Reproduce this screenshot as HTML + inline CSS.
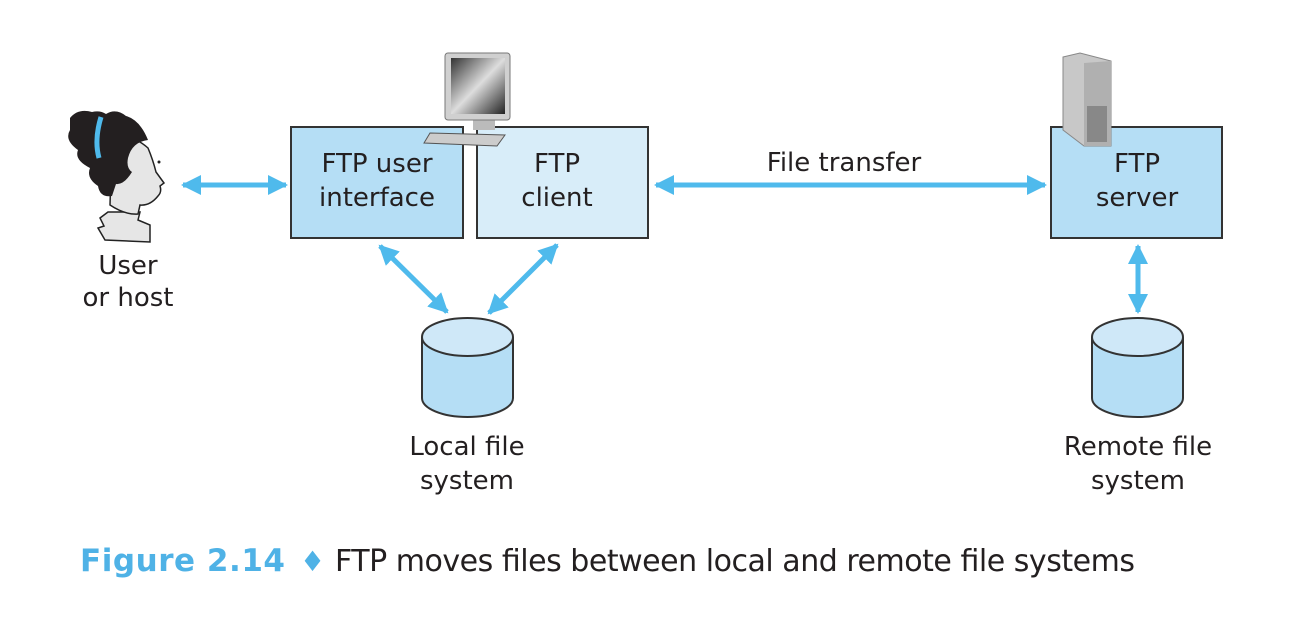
<!DOCTYPE html>
<html><head><meta charset="utf-8"><style>
html,body{margin:0;padding:0;background:#fff;width:1304px;height:632px;overflow:hidden}
svg{display:block}
text{font-family:"DejaVu Sans","Liberation Sans",sans-serif;fill:#231f20}
</style></head><body>
<svg width="1304" height="632" viewBox="0 0 1304 632">
<defs>
<marker id="a" viewBox="0 0 10 10" refX="9" refY="5" markerWidth="4" markerHeight="4" orient="auto-start-reverse"><path d="M0,0 L10,5 L0,10 Z" fill="#4fbaec"/></marker>
<linearGradient id="scr" x1="0" y1="0" x2="1" y2="1"><stop offset="0" stop-color="#333"/><stop offset=".5" stop-color="#ddd"/><stop offset="1" stop-color="#222"/></linearGradient>
</defs>
<g stroke="#4fbaec" stroke-width="5" fill="none">
<line x1="183" y1="185" x2="286" y2="185" marker-start="url(#a)" marker-end="url(#a)"/>
<line x1="656" y1="185" x2="1045" y2="185" marker-start="url(#a)" marker-end="url(#a)"/>
<line x1="380" y1="246" x2="447" y2="312" marker-start="url(#a)" marker-end="url(#a)"/>
<line x1="557" y1="245" x2="489" y2="313" marker-start="url(#a)" marker-end="url(#a)"/>
<line x1="1138" y1="246" x2="1138" y2="312" marker-start="url(#a)" marker-end="url(#a)"/>
</g>
<rect x="291" y="127" width="172" height="111" fill="#b5def5" stroke="#333" stroke-width="2"/>
<rect x="477" y="127" width="171" height="111" fill="#d8edf9" stroke="#333" stroke-width="2"/>
<rect x="1051" y="127" width="171" height="111" fill="#b5def5" stroke="#333" stroke-width="2"/>
<!-- computer -->
<polygon points="430,133 505,135 497,146 424,143" fill="#ccc" stroke="#555"/>
<rect x="473" y="118" width="22" height="12" fill="#bbb"/>
<rect x="445" y="53" width="65" height="67" rx="3" fill="#d0d0d0" stroke="#777"/>
<rect x="451" y="58" width="54" height="56" fill="url(#scr)"/>
<!-- server -->
<polygon points="1063,57 1080,53 1111,61 1111,146 1084,146 1063,130" fill="#c8c8c8" stroke="#888"/>
<polygon points="1084,63 1111,61 1111,146 1084,146" fill="#b0b0b0"/>
<rect x="1087" y="106" width="20" height="36" fill="#888"/>
<!-- cylinders -->
<g stroke="#333" stroke-width="2" fill="#b5def5">
<path d="M422,337 V398 A45.5,19 0 0 0 513,398 V337"/>
<ellipse cx="467.5" cy="337" rx="45.5" ry="19" fill="#cfe8f8"/>
<path d="M1092,337 V398 A45.5,19 0 0 0 1183,398 V337"/>
<ellipse cx="1137.5" cy="337" rx="45.5" ry="19" fill="#cfe8f8"/>
</g>
<!-- person -->
<path d="M108,212 L100,218 L104,226 L98,228 L105,240 L150,242 L150,225 L138,220 L140,212 Z" fill="#e6e6e6" stroke="#222" stroke-width="1.5"/>
<path d="M112,140 Q130,132 148,148 Q153,160 156,172 L164,183 L160,186 Q162,192 158,196 Q150,206 140,205 L138,214 Q125,215 110,205 Z" fill="#e6e6e6" stroke="#222" stroke-width="1.5"/>
<path d="M70,118 Q78,108 92,112 Q100,110 106,114 Q116,108 126,116 Q140,120 148,140 Q132,142 128,158 Q126,168 132,172 Q124,185 116,184 L112,196 Q100,198 98,186 Q86,178 90,168 Q74,160 78,150 Q64,140 70,130 Z" fill="#231f20"/>
<path d="M101,117 Q94,140 99,158" stroke="#4fbaec" stroke-width="5" fill="none"/>
<circle cx="159" cy="162" r="1.5" fill="#222"/>
<g font-size="26" text-anchor="middle">
<text x="128" y="274">User</text><text x="128" y="306">or host</text>
<text x="377" y="172">FTP user</text><text x="377" y="206">interface</text>
<text x="557" y="172">FTP</text><text x="557" y="206">client</text>
<text x="1137" y="172">FTP</text><text x="1137" y="206">server</text>
<text x="844" y="171">File transfer</text>
<text x="467" y="455">Local file</text><text x="467" y="489">system</text>
<text x="1138" y="455">Remote file</text><text x="1138" y="489">system</text>
</g>
<text x="80" y="571" font-size="31" textLength="205" style="font-weight:bold;fill:#4fb2e6">Figure 2.14</text>
<text x="300" y="571" font-size="28" style="fill:#4fb2e6">♦</text>
<text x="335" y="571" font-size="30" textLength="800">FTP moves files between local and remote file systems</text>
</svg>
</body></html>
